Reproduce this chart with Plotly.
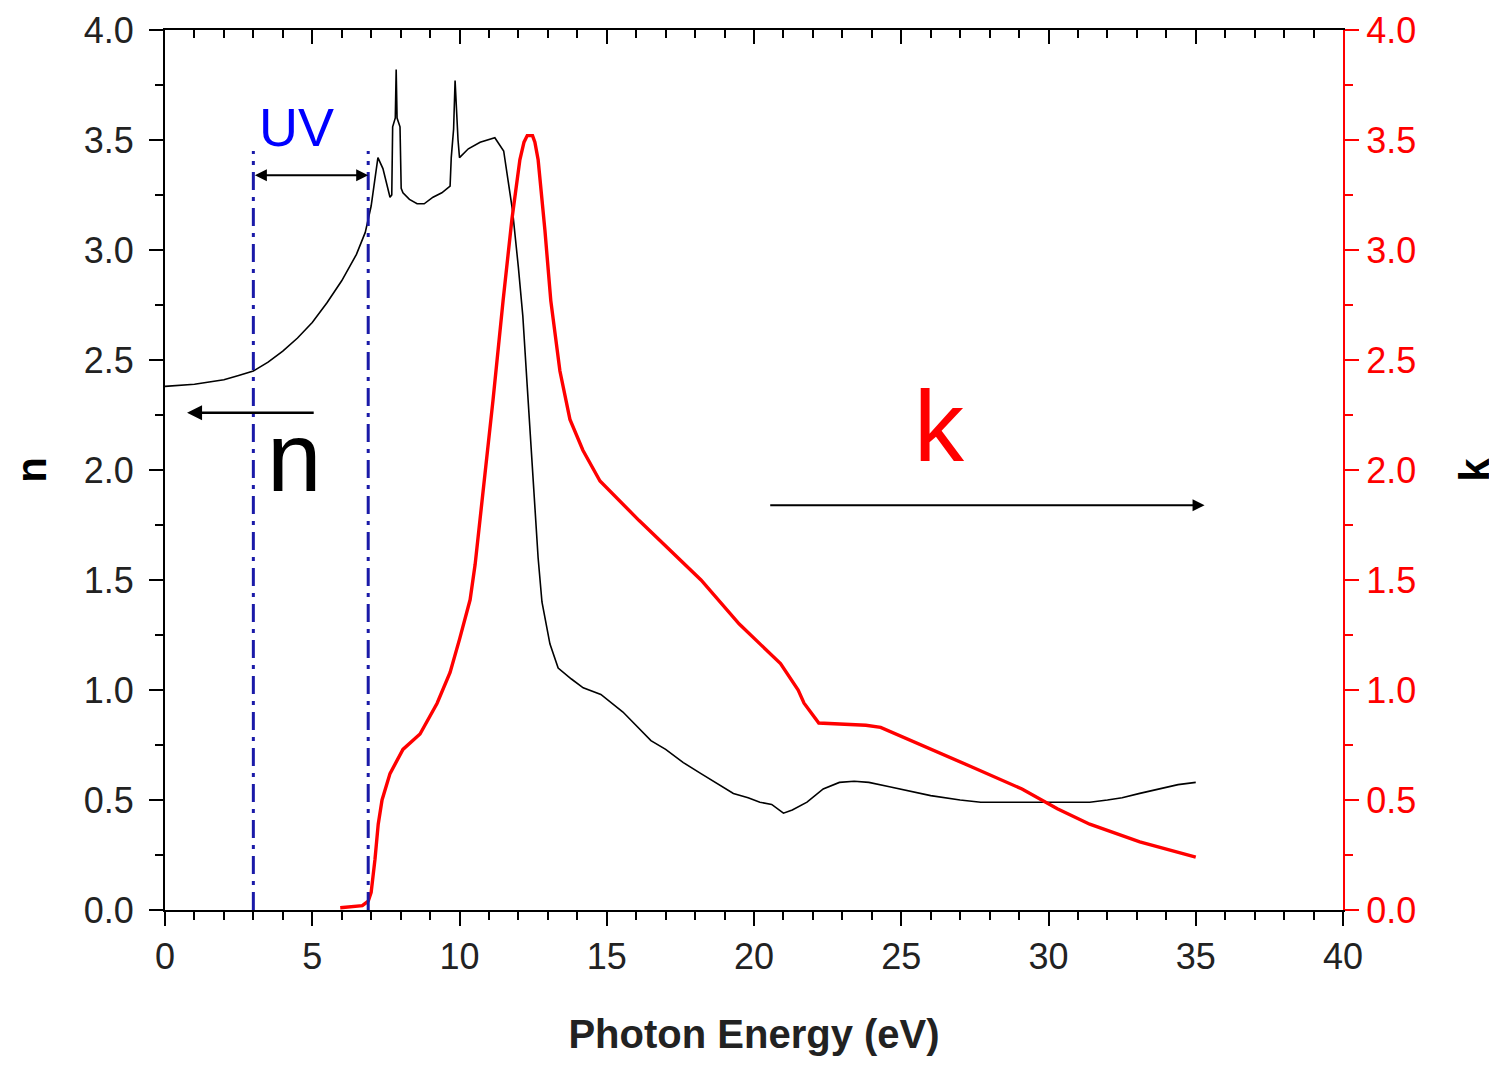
"""
Refractive index n and extinction coefficient k versus photon energy
"""

import plotly.graph_objects as go

# n (left axis), black thin line
n_energy = [0.0, 0.5, 1.0, 1.5, 2.0, 2.5, 3.0, 3.5, 4.0, 4.5, 5.0, 5.5, 6.0, 6.5,
            6.8, 7.0, 7.15, 7.23, 7.4, 7.64, 7.70, 7.73, 7.82, 7.85, 7.88, 7.98,
            8.02, 8.08, 8.3, 8.56, 8.8, 9.1, 9.4, 9.68, 9.72, 9.8, 9.85, 9.9,
            9.95, 10.0, 10.3, 10.7, 11.2, 11.5, 11.8, 12.0, 12.15, 12.3, 12.5,
            12.67, 12.8, 13.07, 13.35, 13.8, 14.2, 14.8, 15.55, 16.5, 17.0,
            17.6, 18.2, 18.8, 19.3, 19.8, 20.2, 20.6, 21.0, 21.3, 21.8, 22.35,
            22.9, 23.4, 23.9, 24.6, 25.3, 26.0, 27.0, 27.7, 28.7, 29.7, 30.5,
            31.4, 32.0, 32.5, 33.1, 33.7, 34.4, 35.0]
n_values = [2.38, 2.385, 2.39, 2.40, 2.41, 2.43, 2.45, 2.49, 2.54, 2.60, 2.67,
            2.76, 2.86, 2.98, 3.08, 3.20, 3.35, 3.42, 3.37, 3.24, 3.25, 3.56,
            3.60, 3.82, 3.60, 3.56, 3.28, 3.26, 3.23, 3.21, 3.21, 3.24, 3.26,
            3.29, 3.42, 3.55, 3.77, 3.60, 3.50, 3.42, 3.46, 3.49, 3.51, 3.45,
            3.18, 2.92, 2.70, 2.38, 1.98, 1.60, 1.40, 1.21, 1.10, 1.05, 1.01,
            0.98, 0.90, 0.77, 0.73, 0.67, 0.62, 0.57, 0.53, 0.51, 0.49, 0.48,
            0.44, 0.455, 0.49, 0.55, 0.58, 0.585, 0.58, 0.56, 0.54, 0.52, 0.50,
            0.49, 0.49, 0.49, 0.49, 0.49, 0.50, 0.51, 0.53, 0.55, 0.57, 0.58]

# k (right axis), red thick line
k_energy = [5.95, 6.7, 6.9, 7.0, 7.13, 7.24, 7.37, 7.64, 8.08, 8.66, 9.24,
            9.68, 10.0, 10.19, 10.36, 10.53, 10.7, 10.93, 11.14, 11.48, 11.78,
            12.05, 12.19, 12.3, 12.39, 12.48, 12.56, 12.67, 12.9, 13.1, 13.41,
            13.75, 14.19, 14.77, 16.1, 18.2, 19.5, 20.9, 21.5, 21.7, 22.2,
            23.0, 23.8, 24.3, 25.7, 27.4, 29.1, 30.3, 31.4, 33.1, 35.0]
k_values = [0.01, 0.02, 0.04, 0.08, 0.23, 0.39, 0.50, 0.62, 0.73, 0.80, 0.94,
            1.08, 1.23, 1.32, 1.41, 1.57, 1.77, 2.05, 2.32, 2.77, 3.14,
            3.41, 3.49, 3.52, 3.52, 3.52, 3.49, 3.41, 3.09, 2.77, 2.45,
            2.23, 2.09, 1.95, 1.77, 1.50, 1.30, 1.12, 1.00, 0.94, 0.85,
            0.845, 0.84, 0.83, 0.75, 0.65, 0.55, 0.46, 0.39, 0.31, 0.24]

# UV band markers and arrows
uv_bounds = [3.0, 6.9]
uv_top = 3.45
uv_arrow_y = 3.34
n_arrow = {"from": 5.1, "to": 0.75, "y": 2.26}
k_arrow = {"from": 20.5, "to": 35.3, "y": 1.84}

FONT = "Liberation Sans, Arial, sans-serif"
BLUE = "#1a1aa8"

fig = go.Figure()

fig.add_trace(go.Scatter(
    x=n_energy, y=n_values, mode="lines", name="n",
    line={"color": "black", "width": 1.6}
))
fig.add_trace(go.Scatter(
    x=k_energy, y=k_values, mode="lines", name="k", yaxis="y2",
    line={"color": "red", "width": 3.4}
))

for xb in uv_bounds:
    fig.add_shape(type="line", x0=xb, x1=xb, y0=0, y1=uv_top, xref="x", yref="y",
                  line={"color": BLUE, "width": 3, "dash": "18px,7px,4px,7px"})

# double-headed UV arrow
fig.add_annotation(x=uv_bounds[1], y=uv_arrow_y, ax=uv_bounds[0], ay=uv_arrow_y,
                   xref="x", yref="y", axref="x", ayref="y", text="",
                   showarrow=True, arrowhead=2, startarrowhead=2, arrowside="end+start",
                   arrowsize=1.2, arrowwidth=2, arrowcolor="black")
fig.add_annotation(x=4.45, y=3.56, xref="x", yref="y", text="UV",
                   showarrow=False, font={"family": FONT, "size": 54, "color": "blue"})

fig.add_annotation(x=n_arrow["to"], y=n_arrow["y"], ax=n_arrow["from"], ay=n_arrow["y"],
                   xref="x", yref="y", axref="x", ayref="y", text="",
                   showarrow=True, arrowhead=2, arrowsize=1.2, arrowwidth=2.5,
                   arrowcolor="black")
fig.add_annotation(x=4.4, y=2.06, xref="x", yref="y", text="n", showarrow=False,
                   font={"family": FONT, "size": 98, "color": "black"})

fig.add_annotation(x=k_arrow["to"], y=k_arrow["y"], ax=k_arrow["from"], ay=k_arrow["y"],
                   xref="x", yref="y", axref="x", ayref="y", text="",
                   showarrow=True, arrowhead=2, arrowsize=1.2, arrowwidth=2,
                   arrowcolor="black")
fig.add_annotation(x=26.3, y=2.2, xref="x", yref="y", text="k", showarrow=False,
                   font={"family": FONT, "size": 100, "color": "red"})

tick_font = {"family": FONT, "size": 36, "color": "#222222"}

fig.update_layout(
    width=1497,
    height=1070,
    margin={"l": 157, "r": 162, "t": 22, "b": 168},
    plot_bgcolor="white",
    paper_bgcolor="white",
    showlegend=False,
    font={"family": FONT},
    xaxis={
        "range": [0, 40], "tickmode": "linear", "tick0": 0, "dtick": 5,
        "ticks": "outside", "ticklen": 14, "tickwidth": 2, "tickcolor": "black",
        "minor": {"dtick": 1, "ticks": "outside", "ticklen": 8, "tickwidth": 2,
                  "tickcolor": "black"},
        "showline": True, "linecolor": "black", "linewidth": 2,
        "showgrid": False, "zeroline": False, "tickfont": tick_font,
        "title": {"text": "<b>Photon Energy (eV)</b>",
                  "font": {"family": FONT, "size": 40, "color": "#222222"},
                  "standoff": 44},
    },
    xaxis2={
        "range": [0, 40], "overlaying": "x", "side": "top", "matches": "x",
        "tickmode": "linear", "tick0": 0, "dtick": 5,
        "ticks": "inside", "ticklen": 14, "tickwidth": 2, "tickcolor": "black",
        "minor": {"dtick": 1, "ticks": "inside", "ticklen": 8, "tickwidth": 2,
                  "tickcolor": "black"},
        "showticklabels": False, "showline": True, "linecolor": "black",
        "linewidth": 2, "showgrid": False, "zeroline": False, "automargin": False,
    },
    yaxis={
        "range": [0, 4], "tickmode": "linear", "tick0": 0, "dtick": 0.5,
        "tickformat": ".1f", "ticks": "outside", "ticklen": 14, "tickwidth": 2,
        "tickcolor": "black", "ticklabelstandoff": 8, "automargin": False,
        "minor": {"dtick": 0.25, "ticks": "outside", "ticklen": 8, "tickwidth": 2,
                  "tickcolor": "black"},
        "showline": True, "linecolor": "black", "linewidth": 2,
        "showgrid": False, "zeroline": False, "tickfont": tick_font,
        "title": {"text": "<b>n</b>",
                  "font": {"family": FONT, "size": 42, "color": "black"},
                  "standoff": 36},
    },
    yaxis2={
        "range": [0, 4], "overlaying": "y", "side": "right", "tickmode": "linear",
        "tick0": 0, "dtick": 0.5, "tickformat": ".1f", "ticks": "outside",
        "ticklen": 14, "tickwidth": 2, "tickcolor": "red", "automargin": False,
        "minor": {"dtick": 0.25, "ticks": "outside", "ticklen": 8, "tickwidth": 2,
                  "tickcolor": "red"},
        "showline": True, "linecolor": "red", "linewidth": 2,
        "showgrid": False, "zeroline": False,
        "tickfont": {"family": FONT, "size": 36, "color": "red"},
        "title": {"text": "<b>k</b>",
                  "font": {"family": FONT, "size": 42, "color": "black"},
                  "standoff": 44},
    },
)

# a dummy trace so the top axis is drawn
fig.add_trace(go.Scatter(x=[0], y=[0], xaxis="x2", mode="markers",
                         marker={"opacity": 0}, hoverinfo="skip", showlegend=False))

fig.write_html("out.html")
